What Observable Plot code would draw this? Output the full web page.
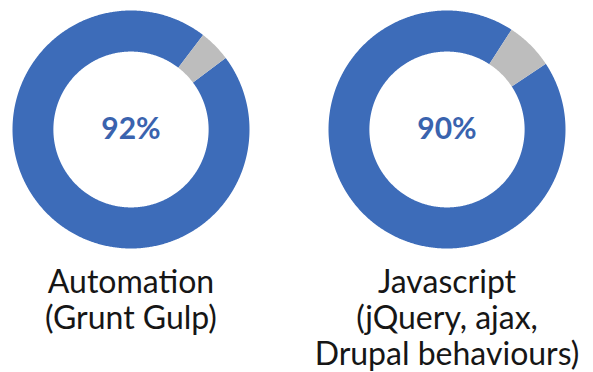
<!DOCTYPE html>
<html>
<head>
<meta charset="utf-8">
<script src="https://cdn.jsdelivr.net/npm/d3@7"></script>
<script src="https://cdn.jsdelivr.net/npm/@observablehq/plot@0.6"></script>
<style>
  html, body { margin: 0; padding: 0; background: #fff; }
  #chart svg { display: block; }
</style>
</head>
<body>
<div id="chart"></div>
<script>
// ---- data ----
const skills = ["Automation\n(Grunt Gulp)", "Javascript\n(jQuery, ajax,\nDrupal behaviours)"];
const percents = [92, 90];
// grey wedge, in degrees clockwise from 12 o'clock, as drawn in the picture
const greyFrom = [37.5, 33];
const greyTo = [53, 56.5];
const parts = ["skill", "rest"];

const BLUE = "#3d6cb9";
const GREY = "#bdbdbd";
const INNER = 0.655; // inner radius relative to outer

function sector(skill, part, a0, a1) {
  const pts = [];
  const n = Math.max(2, Math.ceil(Math.abs(a1 - a0) * 2));
  for (let i = 0; i <= n; i++) {
    const a = (a0 + (a1 - a0) * i / n) * Math.PI / 180;
    pts.push({skill, part, x: Math.sin(a), y: Math.cos(a)});
  }
  for (let i = n; i >= 0; i--) {
    const a = (a0 + (a1 - a0) * i / n) * Math.PI / 180;
    pts.push({skill, part, x: INNER * Math.sin(a), y: INNER * Math.cos(a)});
  }
  return pts;
}

const ring = [];
skills.forEach((s, i) => {
  ring.push(...sector(s, parts[0], greyTo[i], greyFrom[i] + 360));
  ring.push(...sector(s, parts[1], greyFrom[i], greyTo[i]));
});
const rows = skills.map((s, i) => ({skill: s, pct: percents[i] + "%"}));

const chart = Plot.plot({
  width: 593,
  height: 372,
  marginLeft: 11,
  marginRight: 27,
  marginTop: 10,
  marginBottom: 124,
  style: {fontFamily: "Lato, sans-serif", background: "#fff"},
  fx: {domain: skills, paddingInner: 0.2492, paddingOuter: 0, axis: null},
  x: {domain: [-1, 1], axis: null},
  y: {domain: [-1, 1], axis: null},
  color: {domain: parts, range: [BLUE, GREY]},
  marks: [
    Plot.line(ring, {fx: "skill", x: "x", y: "y", z: "part", fill: "part", stroke: null, curve: "linear-closed"}),
    Plot.text(rows, {fx: "skill", text: "pct", frameAnchor: "middle", lineAnchor: "middle",
      fontSize: 30, fontWeight: "bold", fill: "#3a63ae"}),
    Plot.text(rows, {fx: "skill", text: "skill", frameAnchor: "bottom", lineAnchor: "top",
      dy: 19, fontSize: 32, lineHeight: 1.125, fill: "#161616"})
  ]
});
document.getElementById("chart").appendChild(chart);
</script>
</body>
</html>
